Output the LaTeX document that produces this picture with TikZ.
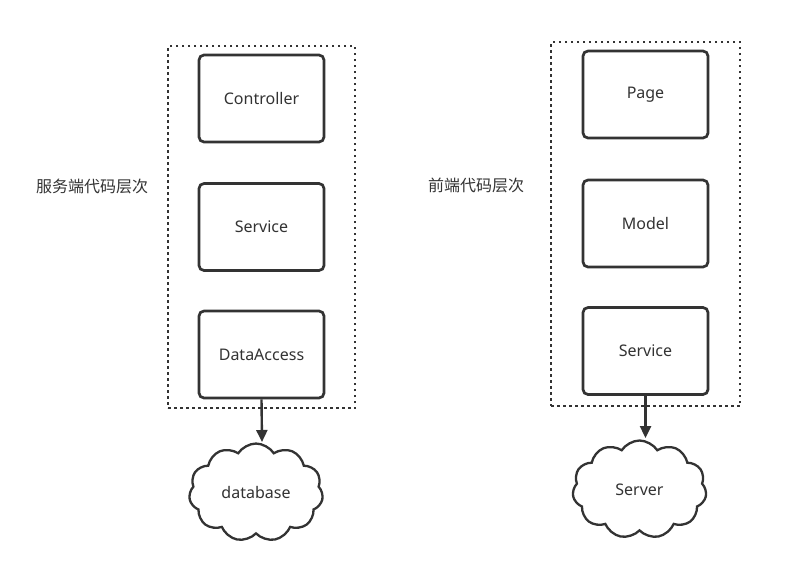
\documentclass[tikz,border=0pt]{standalone}
\usepackage{fontspec}
\setmainfont{Noto Sans}
\newfontfamily\cjk{Noto Sans CJK SC}
\usetikzlibrary{shapes.symbols,arrows.meta}
\definecolor{ink}{HTML}{333333}
\begin{document}
\begin{tikzpicture}[x=1pt,y=-1pt,
  layerbox/.style={draw=ink,line width=2.7pt,rounded corners=5pt,minimum width=125pt,minimum height=87pt,text=ink,font=\fontsize{16}{19}\selectfont,inner sep=0pt},
  dotbox/.style={draw=ink,line width=2.5pt,dash pattern=on 2.5pt off 3.5pt,minimum width=#1,inner sep=0pt},
  cloudnode/.style={cloud,cloud puffs=11,cloud puff arc=115,aspect=1.45,draw=ink,line width=2.3pt,minimum width=134pt,minimum height=98pt,text=ink,font=\fontsize{16}{19}\selectfont,inner sep=0pt},
  flow/.style={draw=ink,line width=2.4pt,-{Triangle[length=12pt,width=11pt]}},
  caption/.style={text=ink,font=\cjk\fontsize{16}{19}\selectfont,inner sep=0pt}]
\useasboundingbox (0,0) rectangle (794,565);
\fill[white] (0,0) rectangle (794,565);
% left column
\node[dotbox=187pt,minimum height=362pt] (lframe) at (261.5,227) {};
\node[layerbox] (ctrl) at (261.5,98.5) {Controller};
\node[layerbox] (lsvc) at (261.5,227) {Service};
\node[layerbox] (dacc) at (261.5,354.5) {DataAccess};
\node[cloudnode] (db) at (256,492.5) {database};
\node[caption] (lcap) at (92,186) {服务端代码层次};
\draw[flow] (dacc.south) -- (262,442) coordinate (dbtop);
% right column
\node[dotbox=189pt,minimum height=364pt] (rframe) at (645.5,224) {};
\node[layerbox] (page) at (645.5,94.5) {Page};
\node[layerbox] (model) at (645.5,223.5) {Model};
\node[layerbox] (rsvc) at (645.5,351) {Service};
\node[cloudnode] (srv) at (639.5,489.5) {Server};
\node[caption] (rcap) at (476,185) {前端代码层次};
\draw[flow] (rsvc.south) -- (645.5,438) coordinate (srvtop);
\end{tikzpicture}
\end{document}
